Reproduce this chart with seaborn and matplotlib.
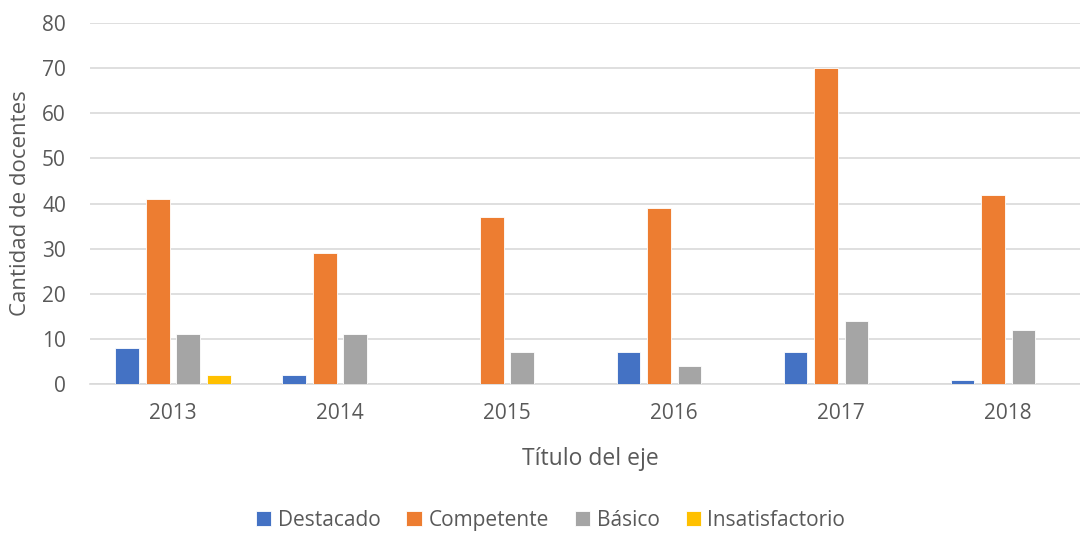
import pandas as pd
import matplotlib
matplotlib.use('Agg')
import matplotlib.pyplot as plt
import seaborn as sns

# chart data
years = ['2013', '2014', '2015', '2016', '2017', '2018']
series = ['Destacado', 'Competente', 'Básico', 'Insatisfactorio']
destacado = [8, 2, 0, 7, 7, 1]
competente = [41, 29, 37, 39, 70, 42]
basico = [11, 11, 7, 4, 14, 12]
insatisfactorio = [2, 0, 0, 0, 0, 0]
colors = ['#4472C4', '#ED7D31', '#A5A5A5', '#FFC000']

rows = []
for name, vals in zip(series, [destacado, competente, basico, insatisfactorio]):
    for year, v in zip(years, vals):
        rows.append({'year': year, 'serie': name, 'value': v})
df = pd.DataFrame(rows)
# zero bars are not drawn in the original
df = df[df['value'] > 0]

sns.set_theme(style='white')
plt.rcParams['font.family'] = ['Open Sans', 'DejaVu Sans']

text_color = '#595959'
grid_color = '#D9D9D9'

fig = plt.figure(figsize=(10.8, 5.33), dpi=100)
ax = fig.add_axes([0.0829, 0.2795, 0.928, 0.6773])

sns.barplot(data=df, x='year', y='value', hue='serie', order=years,
            hue_order=series, palette=colors, width=0.73, gap=0.22,
            edgecolor='white', linewidth=0.6, saturation=1, ax=ax, zorder=3)

ax.set_ylim(0, 80)
ax.set_xlim(-0.5, 5.5)
ax.set_yticks(range(0, 81, 10))
ax.yaxis.grid(True, color=grid_color, linewidth=1.2, zorder=0)
ax.set_axisbelow(True)
for s in ['top', 'right', 'left']:
    ax.spines[s].set_visible(False)
ax.spines['bottom'].set_color(grid_color)
ax.spines['bottom'].set_linewidth(1.2)
ax.tick_params(axis='both', length=0, labelsize=15, colors=text_color)
ax.tick_params(axis='x', pad=14)
ax.tick_params(axis='y', pad=17)

ax.set_xlabel('Título del eje', fontsize=16.5, color=text_color, labelpad=16)
ax.set_ylabel('Cantidad de docentes', fontsize=16, color=text_color, labelpad=8)

ax.legend(loc='lower center', bbox_to_anchor=(0.46, -0.43), ncol=4,
          frameon=False, fontsize=15, handlelength=0.75, handleheight=0.75,
          handletextpad=0.3, columnspacing=1.25, labelcolor=text_color,
          borderaxespad=0)

fig.savefig('out.png', dpi=100)
